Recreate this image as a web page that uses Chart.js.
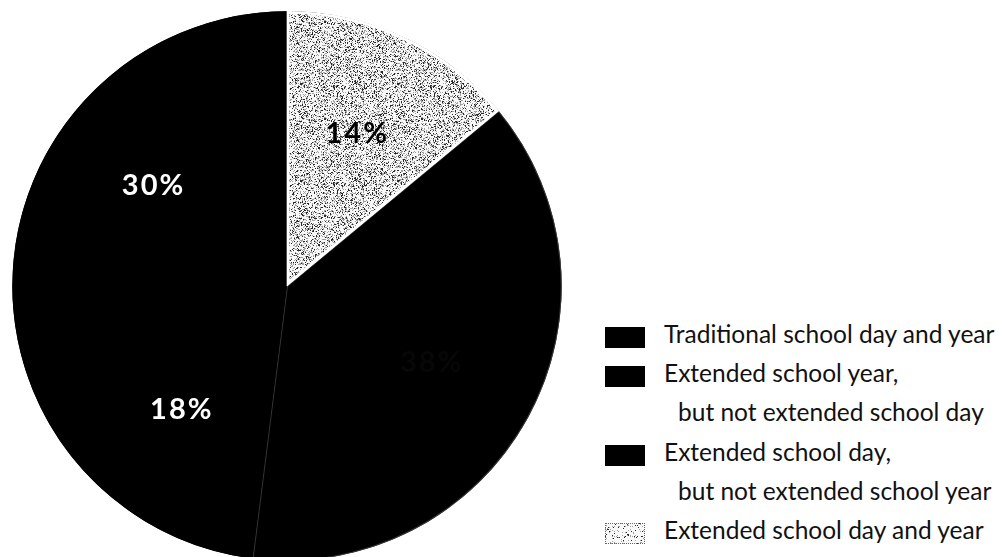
<!DOCTYPE html>
<html>
<head>
<meta charset="utf-8">
<script src="https://cdn.jsdelivr.net/npm/chart.js@4.4.1/dist/chart.umd.min.js"></script>
<style>
  html, body { margin: 0; padding: 0; background: #fff; width: 1002px; height: 557px; overflow: hidden; position: relative; }
  #pieBox { position: absolute; left: 12px; top: 11px; width: 550px; height: 550px; }
  #legend { position: absolute; left: 0; top: 0; font-family: Lato, "Open Sans", sans-serif; font-size: 24.5px; color: #111; }
  .swatch { position: absolute; width: 40px; height: 21px; box-sizing: border-box; }
  .line { position: absolute; white-space: nowrap; line-height: 1; }
</style>
</head>
<body>
<div id="pieBox"><canvas id="pie"></canvas></div>
<div id="legend"></div>
<script>
// School schedule categories, one per slice (legend order)
const categories = [
  ["Traditional school day and year"],
  ["Extended school year,", "but not extended school day"],
  ["Extended school day,", "but not extended school year"],
  ["Extended school day and year"]
];
// Percent of schools in each category
const shares = [38, 18, 30, 14];

// Slice styling
const solidFill = '#000000';
const labelColors = ['#070707', '#ffffff', '#ffffff', '#000000'];

// Deterministic stipple texture for the light slice
function hash(x, y) {
  const s = Math.sin(x * 12.9898 + y * 78.233) * 43758.5453;
  return s - Math.floor(s);
}
function stippleCanvas(size, dark, mid) {
  const c = document.createElement('canvas');
  c.width = size; c.height = size;
  const g = c.getContext('2d');
  const img = g.createImageData(size, size);
  for (let y = 0; y < size; y++) {
    for (let x = 0; x < size; x++) {
      const h = hash(x + 1, y + 1);
      let v = 248;
      if (h < dark) v = 40;
      else if (h < dark + mid) v = 160;
      const k = (y * size + x) * 4;
      img.data[k] = img.data[k + 1] = img.data[k + 2] = v;
      img.data[k + 3] = 255;
    }
  }
  g.putImageData(img, 0, 0);
  return c;
}
const stipple = stippleCanvas(97, 0.14, 0.24);
const stippleLight = stippleCanvas(40, 0.05, 0.09);

const pieCtx = document.getElementById('pie').getContext('2d');
const pattern = pieCtx.createPattern(stipple, 'repeat');
const fills = [solidFill, solidFill, solidFill, pattern];

const total = shares.reduce((a, b) => a + b, 0);
// Start so that the last slice ends at twelve o'clock
const startRotation = 360 * shares[shares.length - 1] / total;

// Solid disc under the slices so adjoining black wedges show no seams
const pieBackdrop = {
  id: 'pieBackdrop',
  beforeDatasetsDraw(chart) {
    const arc = chart.getDatasetMeta(0).data[0];
    if (!arc) return;
    const p = arc.getProps(['x', 'y', 'outerRadius'], true);
    const ctx = chart.ctx;
    ctx.save();
    ctx.beginPath();
    ctx.arc(p.x, p.y, p.outerRadius - 0.3, 0, Math.PI * 2);
    ctx.fillStyle = solidFill;
    ctx.fill();
    ctx.restore();
  }
};

const sliceLabels = {
  id: 'sliceLabels',
  afterDatasetsDraw(chart) {
    const ctx = chart.ctx;
    const meta = chart.getDatasetMeta(0);
    meta.data.forEach((arc, i) => {
      const p = arc.getProps(['x', 'y', 'startAngle', 'endAngle', 'outerRadius'], true);
      const mid = (p.startAngle + p.endAngle) / 2;
      const r = p.outerRadius * 0.6;
      ctx.save();
      ctx.font = 'bold 29px Lato, sans-serif';
      if ('letterSpacing' in ctx) ctx.letterSpacing = '2px';
      ctx.fillStyle = labelColors[i];
      ctx.textAlign = 'center';
      ctx.textBaseline = 'middle';
      ctx.fillText(shares[i] + '%', p.x + Math.cos(mid) * r, p.y + Math.sin(mid) * r - 3);
      ctx.restore();
    });
  }
};

new Chart(pieCtx, {
  type: 'pie',
  data: {
    labels: categories.map(c => c.join(' ')),
    datasets: [{
      data: shares,
      backgroundColor: fills,
      borderColor: ['rgba(255,255,255,0.2)', solidFill, solidFill, '#ffffff'],
      borderWidth: [1, 0, 0, 2.5],
      borderAlign: 'inner',
      hoverOffset: 0,
      offset: 0
    }]
  },
  options: {
    responsive: true,
    maintainAspectRatio: false,
    animation: false,
    events: [],
    rotation: startRotation,
    layout: { padding: 0 },
    plugins: {
      legend: { display: false },
      tooltip: { enabled: false }
    }
  },
  plugins: [pieBackdrop, sliceLabels]
});

// Legend built from the same categories and fills
const legend = document.getElementById('legend');
const lineStep = 39.2;
const firstTop = 322;
let row = 0;
categories.forEach((lines, i) => {
  const sw = document.createElement('div');
  sw.className = 'swatch';
  sw.style.left = '605px';
  sw.style.top = (firstTop + row * lineStep + 5) + 'px';
  if (i === categories.length - 1) {
    sw.style.backgroundImage = 'url(' + stippleLight.toDataURL() + ')';
    sw.style.border = '1px dotted #666';
  } else {
    sw.style.background = solidFill;
  }
  legend.appendChild(sw);
  lines.forEach((t, j) => {
    const d = document.createElement('div');
    d.className = 'line';
    d.textContent = t;
    d.style.left = (j === 0 ? 664 : 678) + 'px';
    d.style.top = (firstTop + row * lineStep) + 'px';
    legend.appendChild(d);
    row++;
  });
});
</script>
</body>
</html>
